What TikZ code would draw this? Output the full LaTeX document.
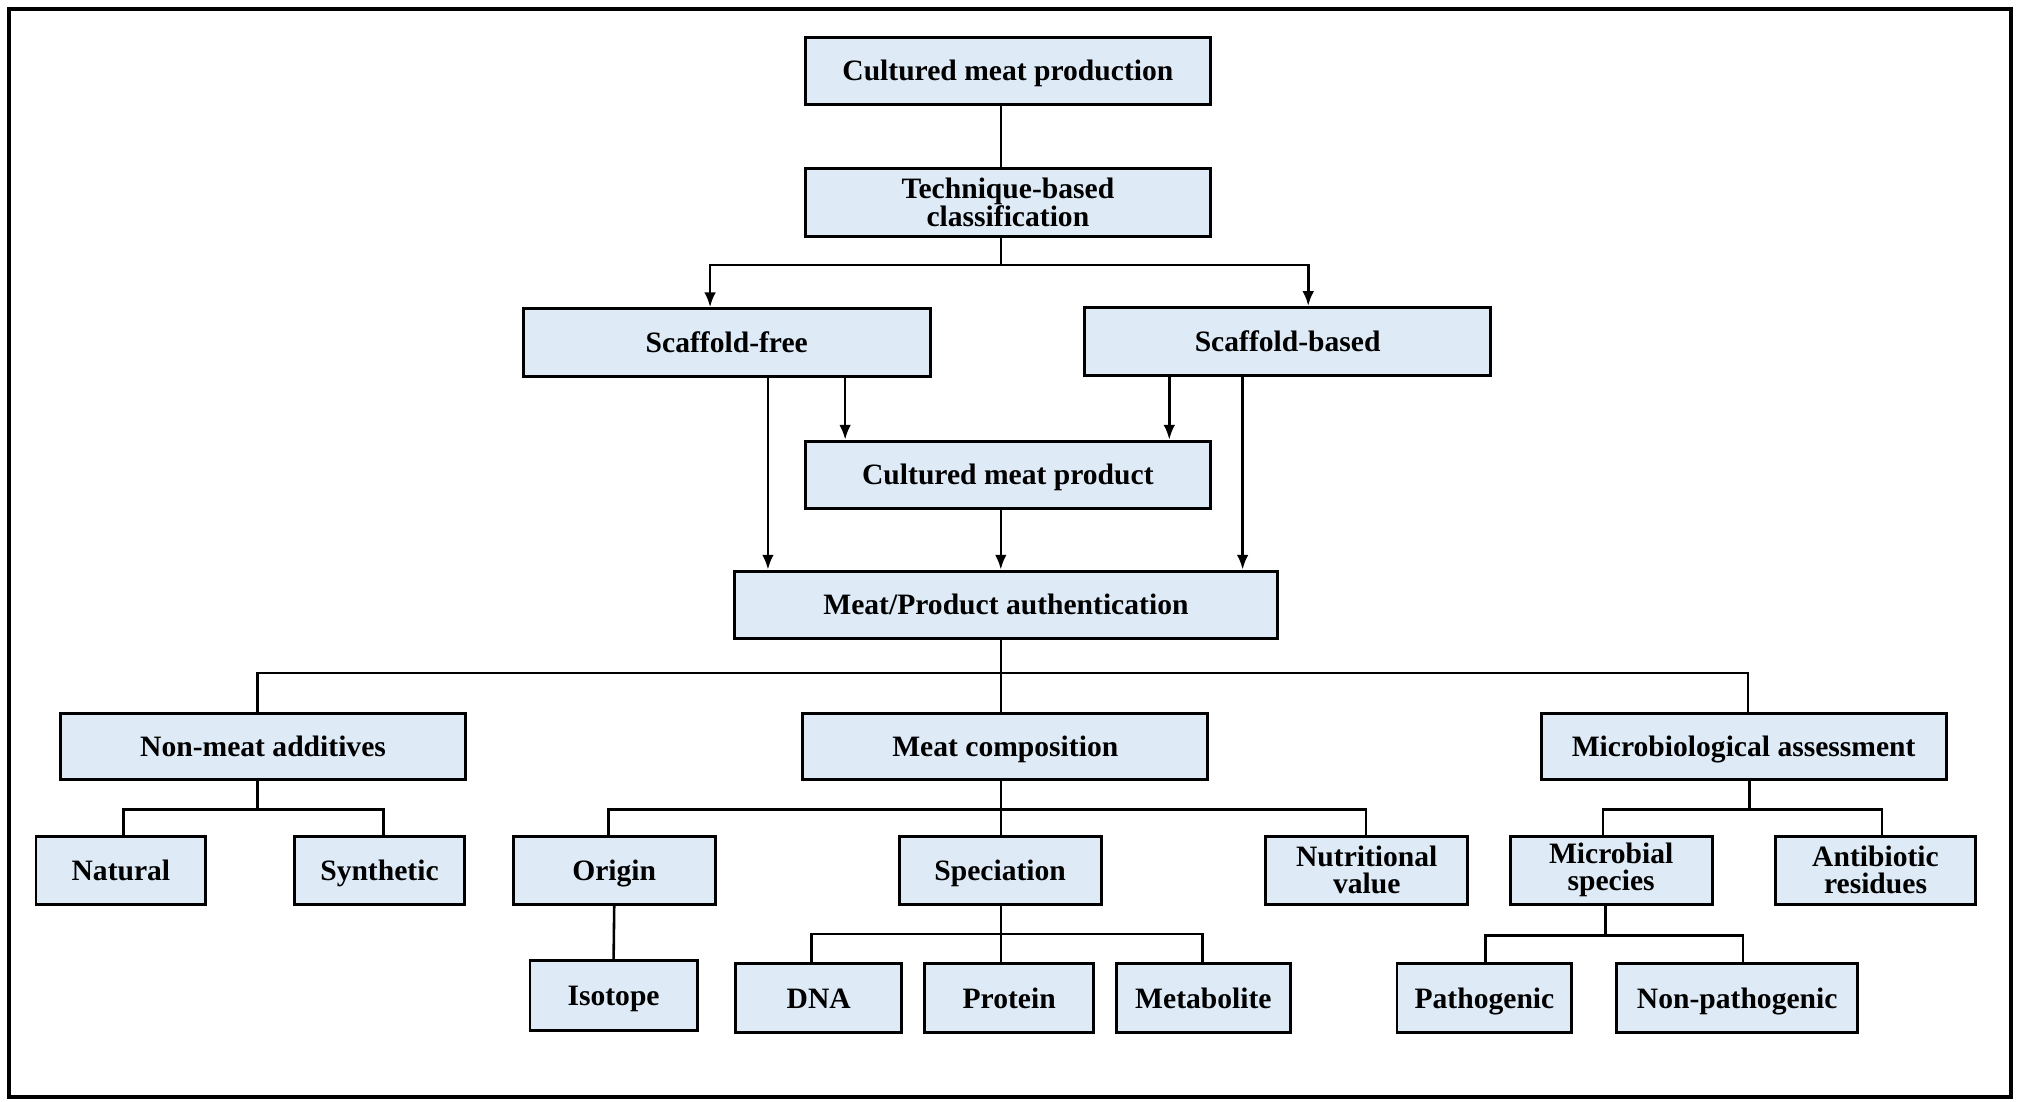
\documentclass[tikz,border=0pt]{standalone}
\usepackage{fontspec}
\setmainfont{Liberation Serif}
\usetikzlibrary{arrows.meta}
\definecolor{boxblue}{RGB}{222,235,247}
\tikzset{
  boxbase/.style={draw=black, fill=boxblue, line width=2.3pt, align=center, inner sep=0pt,
    font=\fontsize{23}{21}\selectfont\bfseries},
  box/.style={boxbase, text height=15.5pt, text depth=0pt},
  boxtwo/.style={boxbase},
  ln/.style={draw=black, line width=2pt},
  arr/.style={draw=black, line width=2pt, -{Latex[length=11.5pt,width=9pt]}},
}
\begin{document}
\begin{tikzpicture}[x=1pt,y=-1pt]
\useasboundingbox (0,0) rectangle (1568,856);
\draw[line width=3.2pt] (7,7) rectangle (1563,853);

% nodes
\node[box, minimum width=315pt, minimum height=52pt] (cmp) at (783.5,55) {Cultured meat production};
\node[boxtwo, minimum width=315pt, minimum height=53pt] (tbc) at (783.5,157.5) {Technique-based\\classification};
\node[box, minimum width=316pt, minimum height=53pt] (sf) at (565,266.5) {Scaffold-free};
\node[box, minimum width=316pt, minimum height=53pt] (sb) at (1001,265.5) {Scaffold-based};
\node[box, minimum width=315pt, minimum height=52pt] (cmprod) at (783.5,369) {Cultured meat product};
\node[box, minimum width=422pt, minimum height=52pt] (mpa) at (782,470) {Meat/Product authentication};
\node[box, minimum width=315pt, minimum height=51pt] (nma) at (204.5,580.5) {Non-meat additives};
\node[box, minimum width=315pt, minimum height=51pt] (mc) at (781.5,580.5) {Meat composition};
\node[box, minimum width=315pt, minimum height=51pt] (ma) at (1355.5,580.5) {Microbiological assessment};
\node[box, minimum width=132pt, minimum height=53pt] (nat) at (94,676.5) {Natural};
\node[box, minimum width=132pt, minimum height=53pt] (syn) at (295,676.5) {Synthetic};
\node[box, minimum width=157pt, minimum height=53pt] (ori) at (477.5,676.5) {Origin};
\node[box, minimum width=157pt, minimum height=53pt] (spe) at (777.5,676.5) {Speciation};
\node[boxtwo, minimum width=157pt, minimum height=53pt] (nut) at (1062.5,676.5) {Nutritional\\value};
\node[boxtwo, minimum width=157pt, minimum height=53pt] (mic) at (1252.5,676.5) {Microbial\\species};
\node[boxtwo, minimum width=156pt, minimum height=53pt] (ant) at (1458,676.5) {Antibiotic\\residues};
\node[box, minimum width=130pt, minimum height=54pt] (iso) at (477,774) {Isotope};
\node[box, minimum width=129pt, minimum height=54pt] (dna) at (636.5,776) {DNA};
\node[box, minimum width=131pt, minimum height=54pt] (pro) at (784.5,776) {Protein};
\node[box, minimum width=135pt, minimum height=54pt] (met) at (935.5,776) {Metabolite};
\node[box, minimum width=136pt, minimum height=54pt] (pat) at (1154,776) {Pathogenic};
\node[box, minimum width=187pt, minimum height=54pt] (nonp) at (1350.5,776) {Non-pathogenic};

% vertical guide coordinates
\coordinate (x778) at (778,0);
\coordinate (x552) at (552,0);
\coordinate (x1017) at (1017,0);
\coordinate (x597) at (597,0);
\coordinate (x657) at (657,0);
\coordinate (x909) at (909,0);
\coordinate (x966) at (966,0);
\coordinate (x200) at (200,0);
\coordinate (x1359) at (1359,0);
\coordinate (x96) at (96,0);
\coordinate (x298) at (298,0);
\coordinate (x473) at (473,0);
\coordinate (x1062) at (1062,0);
\coordinate (x1360) at (1360,0);
\coordinate (x1246) at (1246,0);
\coordinate (x1463) at (1463,0);
\coordinate (x631) at (631,0);
\coordinate (x935) at (935,0);
\coordinate (x1248) at (1248,0);
\coordinate (x1155) at (1155,0);
\coordinate (x1355) at (1355,0);

% top chain
\draw[ln] (cmp.south -| x778) -- (tbc.north -| x778);
\draw[ln] (tbc.south -| x778) -- ++(0,21) coordinate (j1);
\draw[arr] (j1) -| (sf.north -| x552);
\draw[arr] (j1) -| (sb.north -| x1017);
\draw[arr] (sf.south -| x597) -- (mpa.north -| x597);
\draw[arr] (sf.south -| x657) -- (cmprod.north -| x657);
\draw[arr] (sb.south -| x909) -- (cmprod.north -| x909);
\draw[arr] (sb.south -| x966) -- (mpa.north -| x966);
\draw[arr] (cmprod.south -| x778) -- (mpa.north -| x778);

% authentication branches
\draw[ln] (mpa.south -| x778) -- ++(0,26) coordinate (j2);
\draw[ln] (j2) -| (nma.north -| x200);
\draw[ln] (j2) -| (ma.north -| x1359);
\draw[ln] (j2) -- (mc.north -| x778);

% non-meat additives
\draw[ln] (nma.south -| x200) -- ++(0,22) coordinate (j3);
\draw[ln] (j3) -| (nat.north -| x96);
\draw[ln] (j3) -| (syn.north -| x298);

% meat composition
\draw[ln] (mc.south -| x778) -- ++(0,22) coordinate (j4);
\draw[ln] (j4) -| (ori.north -| x473);
\draw[ln] (j4) -| (nut.north -| x1062);
\draw[ln] (j4) -- (spe.north -| x778);

% microbiological
\draw[ln] (ma.south -| x1360) -- ++(0,22) coordinate (j5);
\draw[ln] (j5) -| (mic.north -| x1246);
\draw[ln] (j5) -| (ant.north -| x1463);

% origin -> isotope
\draw[ln] (ori.south) -- (iso.north);

% speciation
\draw[ln] (spe.south -| x778) -- ++(0,22) coordinate (j6);
\draw[ln] (j6) -| (dna.north -| x631);
\draw[ln] (j6) -| (met.north -| x935);
\draw[ln] (j6) -- (pro.north -| x778);

% microbial species
\draw[ln] (mic.south -| x1248) -- ++(0,23) coordinate (j7);
\draw[ln] (j7) -| (pat.north -| x1155);
\draw[ln] (j7) -| (nonp.north -| x1355);
\end{tikzpicture}
\end{document}
